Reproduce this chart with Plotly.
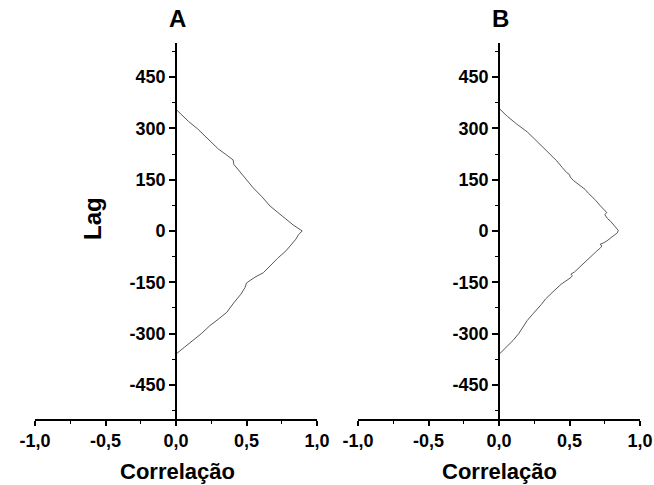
import plotly.graph_objects as go

# ---- data ----
lag_a = [356, 340, 320, 300, 280, 260, 240, 225, 214, 208, 195, 180, 160, 140, 126, 100, 73, 55, 34, 18, 0,
         -10, -24, -40, -58, -80, -102, -122, -135, -145, -152, -165, -185, -210, -238, -258, -277, -300, -321, -340, -360]
corr_a = [0.0, 0.04, 0.09, 0.15, 0.20, 0.25, 0.30, 0.35, 0.39, 0.405, 0.41, 0.44, 0.48, 0.52, 0.548, 0.61, 0.667, 0.72, 0.785, 0.83, 0.895,
          0.87, 0.85, 0.82, 0.78, 0.72, 0.665, 0.62, 0.56, 0.52, 0.50, 0.49, 0.46, 0.41, 0.36, 0.30, 0.24, 0.18, 0.12, 0.06, 0.0]

lag_b = [359, 335, 313, 290, 270, 244, 225, 205, 185, 171, 165, 158, 147, 135, 122, 110, 102, 90, 73, 62, 54, 48, 44, 36, 29, 20, 12, 2,
         -5, -15, -22, -29, -35, -39, -44, -49, -60, -78, -95, -112, -120, -126, -131, -136, -145, -156, -175, -199, -215, -230, -245,
         -262, -280, -300, -320, -340, -361]
corr_b = [0.0, 0.06, 0.125, 0.20, 0.25, 0.314, 0.36, 0.41, 0.45, 0.48, 0.50, 0.505, 0.53, 0.57, 0.61, 0.635, 0.655, 0.685, 0.72, 0.745, 0.765, 0.75, 0.755, 0.77, 0.79, 0.81, 0.83, 0.846,
          0.84, 0.81, 0.79, 0.765, 0.74, 0.716, 0.73, 0.72, 0.69, 0.645, 0.60, 0.555, 0.535, 0.51, 0.52, 0.51, 0.475, 0.44, 0.39, 0.33, 0.30, 0.265, 0.235,
          0.20, 0.17, 0.14, 0.10, 0.054, 0.0]

x_tickvals = [-1.0, -0.5, 0.0, 0.5, 1.0]
x_ticktext = ["-1,0", "-0,5", "0,0", "0,5", "1,0"]
x_minor = [-0.75, -0.25, 0.25, 0.75]
y_tickvals = [-450, -300, -150, 0, 150, 300, 450]
y_ticktext = ["-450", "-300", "-150", "0", "150", "300", "450"]
y_minor = [-525, -375, -225, -75, 75, 225, 375, 525]

panel_titles = ["A", "B"]
x_title = "Correlação"
y_title = "Lag"

W, H = 654, 485
FONT = "Liberation Sans, Arial, sans-serif"
LINE_COLOR = "#5e5656"

fig = go.Figure()
fig.add_trace(go.Scatter(x=corr_a, y=lag_a, mode="lines", line=dict(color=LINE_COLOR, width=1),
                         xaxis="x", yaxis="y", showlegend=False, hoverinfo="skip"))
fig.add_trace(go.Scatter(x=corr_b, y=lag_b, mode="lines", line=dict(color=LINE_COLOR, width=1),
                         xaxis="x2", yaxis="y2", showlegend=False, hoverinfo="skip"))

ydom = [(H - 419) / H, (H - 43) / H]
xdomA = [35 / W, 317 / W]
xdomB = [358 / W, 640 / W]

tickfont = dict(family=FONT, size=18, color="black", weight="bold")


def xaxis(dom, anchor):
    return dict(domain=dom, anchor=anchor, range=[-1, 1], tickmode="array", tickvals=x_tickvals,
                ticktext=x_ticktext, ticks="outside", ticklen=5, tickwidth=1.5, tickcolor="black",
                showline=True, linecolor="black", linewidth=1.6, showgrid=False, zeroline=False,
                tickfont=tickfont, automargin=False,
                minor=dict(tickvals=x_minor, ticks="outside", ticklen=3, tickwidth=1.2, tickcolor="black",
                           showgrid=False))


def yaxis(pos):
    return dict(domain=ydom, anchor="free", position=pos, range=[-550, 550], tickmode="array",
                tickvals=y_tickvals, ticktext=y_ticktext, ticks="outside", ticklen=6, tickwidth=1.5,
                tickcolor="black", showline=True, linecolor="black", linewidth=1.8, showgrid=False,
                zeroline=False, tickfont=tickfont, automargin=False,
                minor=dict(tickvals=y_minor, ticks="outside", ticklen=3, tickwidth=1.2, tickcolor="black",
                           showgrid=False))


fig.update_layout(
    width=W, height=H, margin=dict(l=0, r=0, t=0, b=0, autoexpand=False),
    paper_bgcolor="white", plot_bgcolor="white",
    xaxis=xaxis(xdomA, "y"), yaxis=yaxis(176 / W),
    xaxis2=xaxis(xdomB, "y2"), yaxis2=yaxis(499 / W),
)

annots = [
    dict(text=panel_titles[0], x=177 / W, y=(H - 19) / H, font=dict(size=24)),
    dict(text=panel_titles[1], x=500 / W, y=(H - 19) / H, font=dict(size=24)),
    dict(text=x_title, x=177 / W, y=(H - 471) / H, font=dict(size=22)),
    dict(text=x_title, x=499 / W, y=(H - 471) / H, font=dict(size=22)),
    dict(text=y_title, x=93 / W, y=(H - 219) / H, font=dict(size=24), textangle=-90),
]
for a in annots:
    f = dict(family=FONT, color="black", weight="bold")
    f.update(a.pop("font"))
    fig.add_annotation(xref="paper", yref="paper", xanchor="center", yanchor="middle",
                       showarrow=False, font=f, **a)

fig.write_html("out.html")
